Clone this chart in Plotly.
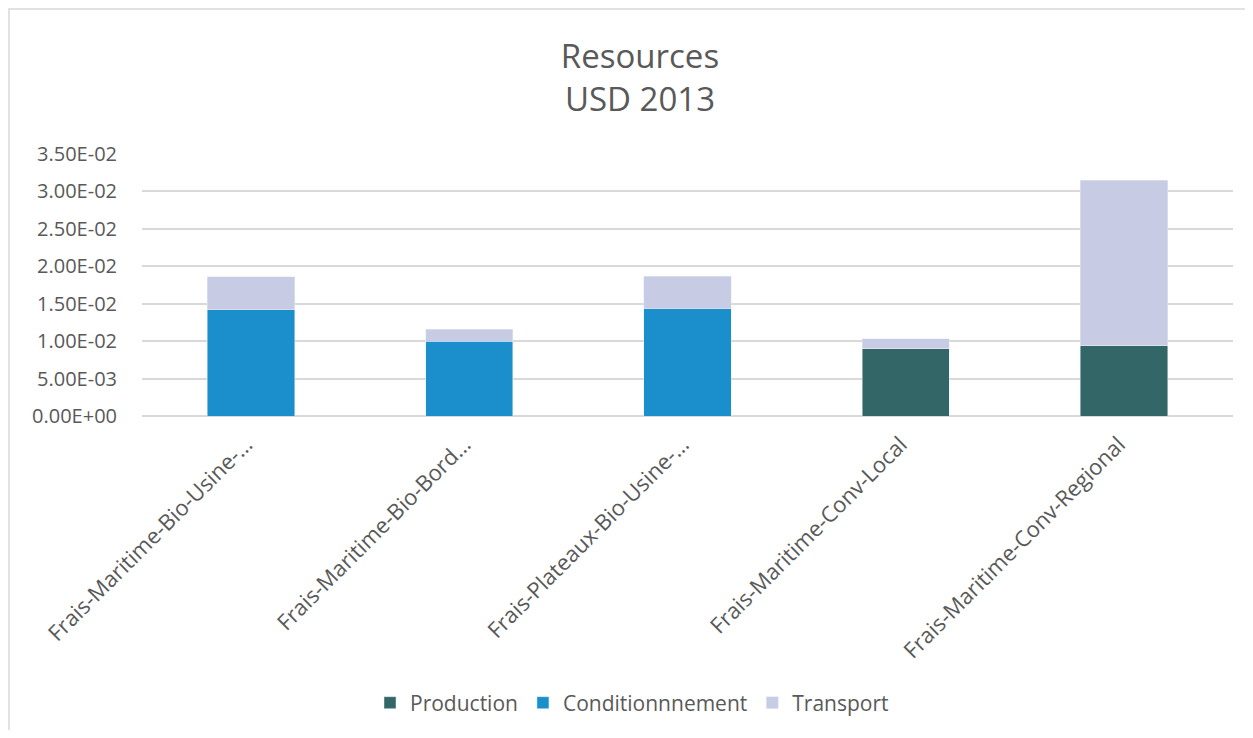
import plotly.graph_objects as go

# data
categories = [
    "Frais-Maritime-Bio-Usine-…",
    "Frais-Maritime-Bio-Bord…",
    "Frais-Plateaux-Bio-Usine-…",
    "Frais-Maritime-Conv-Local",
    "Frais-Maritime-Conv-Regional",
]
production = [0, 0, 0, 9.05e-3, 9.45e-3]
conditionnement = [14.22e-3, 9.99e-3, 14.3e-3, 0, 0]
transport = [4.37e-3, 1.57e-3, 4.38e-3, 1.3e-3, 22.07e-3]

y_ticks = [0, 0.005, 0.01, 0.015, 0.02, 0.025, 0.03, 0.035]
y_tick_text = ["0.00E+00", "5.00E-03", "1.00E-02", "1.50E-02",
               "2.00E-02", "2.50E-02", "3.00E-02", "3.50E-02"]

FONT = "Open Sans, sans-serif"
GREY = "#595959"
OFF = 8  # page body margin

fig = go.Figure()
fig.add_bar(x=categories, y=production, name="Production", marker_color="#336666")
fig.add_bar(x=categories, y=conditionnement, name="Conditionnnement", marker_color="#1a8fcb")
fig.add_bar(x=categories, y=transport, name="Transport", marker_color="#c7cbe4")

# plot area in screen pixels: x 142..1233, y 154..416
W, H = 1237, 722
L, T = 142 - OFF, 154 - OFF
R = W - (1233 - OFF)
B = H - (416 - OFF)
pw, ph = W - L - R, H - T - B

fig.update_layout(
    barmode="stack",
    bargap=0.6,
    width=W, height=H,
    margin=dict(l=L, r=R, t=T, b=B, autoexpand=False),
    paper_bgcolor="white",
    plot_bgcolor="white",
    font=dict(family=FONT, color=GREY, size=18),
    title=dict(text="Resources<br>USD 2013", x=(640 - OFF) / W, xanchor="center",
               y=1 - (68 - OFF) / H, yanchor="top",
               font=dict(family=FONT, size=33, color=GREY)),
    legend=dict(orientation="h", x=(632 - 142) / pw, xanchor="center",
                yref="container", y=1 - (703 - OFF) / H, yanchor="middle",
                font=dict(size=21, color=GREY), traceorder="normal",
                itemwidth=30),
    showlegend=True,
)

fig.update_xaxes(tickangle=-45, showgrid=False, showline=False,
                 ticks="outside", ticklen=6, tickcolor="white",
                 ticklabelshift=-5, automargin=False,
                 tickfont=dict(size=22, color=GREY))
fig.update_yaxes(range=[0, 0.035], tickvals=y_ticks, ticktext=y_tick_text,
                 showgrid=True, gridcolor="#d9d9d9", gridwidth=1.5,
                 zeroline=True, zerolinecolor="#d9d9d9", zerolinewidth=1.5,
                 showline=False, ticks="outside", ticklen=20, tickcolor="white",
                 automargin=False,
                 tickfont=dict(size=20, color=GREY))

# chart border (partially cropped in the reference)
fig.add_shape(type="rect", xref="paper", yref="paper",
              x0=(9 - 142) / pw, x1=1.2, y0=-3, y1=(416 - 9) / ph,
              line=dict(color="#d9d9d9", width=1.5), layer="below")

fig.write_html("out.html")
